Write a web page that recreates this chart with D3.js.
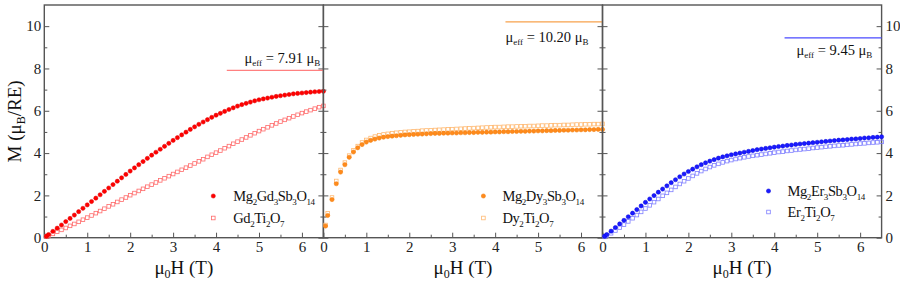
<!DOCTYPE html>
<html>
<head>
<meta charset="utf-8">
<script src="https://cdn.jsdelivr.net/npm/d3@7"></script>
<style>
  body { margin: 0; background: #fff; }
  svg { display: block; }
  svg text { font-family: "Liberation Serif", "Times New Roman", serif; }
</style>
</head>
<body>
<svg id="chart" width="900" height="281"></svg>
<script>
// field (T), shared by every series
var field = [0.05, 0.1, 0.2, 0.3, 0.4, 0.5, 0.6, 0.7, 0.8, 0.9, 1.0, 1.1, 1.2, 1.3, 1.4, 1.5, 1.6, 1.7, 1.8, 1.9,
  2.0, 2.1, 2.2, 2.3, 2.4, 2.5, 2.6, 2.7, 2.8, 2.9, 3.0, 3.1, 3.2, 3.3, 3.4, 3.5, 3.6, 3.7, 3.8, 3.9,
  4.0, 4.1, 4.2, 4.3, 4.4, 4.5, 4.6, 4.7, 4.8, 4.9, 5.0, 5.1, 5.2, 5.3, 5.4, 5.5, 5.6, 5.7, 5.8, 5.9,
  6.0, 6.1, 6.2, 6.3, 6.4, 6.5];

var mgGd = [0.07, 0.15, 0.30, 0.45, 0.60, 0.76, 0.91, 1.07, 1.23, 1.39, 1.55, 1.71, 1.87, 2.03, 2.19, 2.35, 2.51, 2.67, 2.83, 2.99,
  3.15, 3.30, 3.45, 3.60, 3.75, 3.90, 4.04, 4.18, 4.32, 4.46, 4.60, 4.73, 4.86, 4.99, 5.12, 5.24, 5.36, 5.47, 5.58, 5.69,
  5.79, 5.88, 5.97, 6.06, 6.14, 6.22, 6.29, 6.35, 6.41, 6.47, 6.52, 6.56, 6.60, 6.64, 6.68, 6.71, 6.74, 6.77, 6.80, 6.82,
  6.84, 6.86, 6.88, 6.90, 6.91, 6.92];
var gdTi = [0.05, 0.09, 0.18, 0.28, 0.37, 0.46, 0.56, 0.65, 0.75, 0.85, 0.95, 1.05, 1.16, 1.26, 1.37, 1.48, 1.58, 1.69, 1.80, 1.90,
  2.01, 2.11, 2.21, 2.31, 2.41, 2.51, 2.61, 2.71, 2.81, 2.91, 3.01, 3.11, 3.21, 3.31, 3.41, 3.51, 3.61, 3.71, 3.82, 3.92,
  4.02, 4.12, 4.23, 4.33, 4.44, 4.54, 4.64, 4.74, 4.84, 4.94, 5.04, 5.13, 5.22, 5.31, 5.40, 5.49, 5.57, 5.65, 5.73, 5.81,
  5.89, 5.96, 6.03, 6.10, 6.17, 6.23];

var mgDy = [0.55, 1.05, 1.80, 2.55, 3.10, 3.45, 3.80, 4.05, 4.25, 4.40, 4.52, 4.60, 4.66, 4.71, 4.75, 4.78, 4.80, 4.82, 4.84, 4.86,
  4.87, 4.88, 4.89, 4.90, 4.91, 4.92, 4.93, 4.93, 4.94, 4.94, 4.95, 4.95, 4.96, 4.96, 4.97, 4.97, 4.98, 4.98, 4.99, 4.99,
  5.00, 5.00, 5.01, 5.01, 5.02, 5.02, 5.03, 5.03, 5.04, 5.04, 5.05, 5.05, 5.06, 5.06, 5.07, 5.07, 5.08, 5.08, 5.09, 5.09,
  5.10, 5.10, 5.11, 5.11, 5.12, 5.12];
var dyTi = [0.60, 1.15, 1.90, 2.68, 3.20, 3.55, 3.88, 4.13, 4.33, 4.50, 4.62, 4.71, 4.78, 4.84, 4.88, 4.91, 4.94, 4.96, 4.98, 5.00,
  5.01, 5.03, 5.04, 5.06, 5.07, 5.08, 5.09, 5.10, 5.11, 5.12, 5.13, 5.14, 5.15, 5.16, 5.17, 5.18, 5.19, 5.20, 5.21, 5.22,
  5.23, 5.23, 5.24, 5.25, 5.25, 5.26, 5.27, 5.27, 5.28, 5.28, 5.29, 5.30, 5.30, 5.31, 5.32, 5.32, 5.33, 5.33, 5.34, 5.35,
  5.35, 5.36, 5.36, 5.37, 5.37, 5.38];

var mgEr = [0.07, 0.15, 0.31, 0.48, 0.65, 0.82, 0.99, 1.16, 1.33, 1.50, 1.67, 1.83, 1.99, 2.15, 2.30, 2.45, 2.60, 2.74, 2.88, 3.01,
  3.13, 3.24, 3.35, 3.45, 3.54, 3.62, 3.69, 3.76, 3.82, 3.87, 3.92, 3.96, 4.00, 4.04, 4.08, 4.12, 4.16, 4.19, 4.22, 4.25,
  4.28, 4.31, 4.33, 4.36, 4.38, 4.41, 4.43, 4.45, 4.47, 4.49, 4.51, 4.53, 4.55, 4.57, 4.59, 4.61, 4.62, 4.64, 4.66, 4.67,
  4.69, 4.71, 4.72, 4.74, 4.75, 4.77];
var erTi = [0.04, 0.09, 0.21, 0.34, 0.48, 0.62, 0.77, 0.92, 1.07, 1.22, 1.38, 1.53, 1.68, 1.83, 1.98, 2.12, 2.26, 2.40, 2.54, 2.67,
  2.80, 2.92, 3.04, 3.15, 3.25, 3.34, 3.42, 3.49, 3.56, 3.62, 3.67, 3.72, 3.76, 3.80, 3.84, 3.87, 3.90, 3.93, 3.96, 3.99,
  4.02, 4.05, 4.07, 4.10, 4.12, 4.15, 4.17, 4.19, 4.21, 4.24, 4.26, 4.28, 4.30, 4.32, 4.34, 4.36, 4.37, 4.39, 4.41, 4.43,
  4.45, 4.46, 4.48, 4.50, 4.51, 4.53];

// legend names as [text, subscript] pieces
var namesMg = [
  [["Mg", "2"], ["Gd", "3"], ["Sb", "3"], ["O", "14"]],
  [["Mg", "2"], ["Dy", "3"], ["Sb", "3"], ["O", "14"]],
  [["Mg", "2"], ["Er", "3"], ["Sb", "3"], ["O", "14"]]
];
var namesTi = [
  [["Gd", "2"], ["Ti", "2"], ["O", "7"]],
  [["Dy", "2"], ["Ti", "2"], ["O", "7"]],
  [["Er", "2"], ["Ti", "2"], ["O", "7"]]
];
var muEff = [7.91, 10.20, 9.45];
var muEffStart = [4.25, 4.24, 4.24];
var xTicks = [0, 1, 2, 3, 4, 5, 6];
var yTicks = [0, 2, 4, 6, 8, 10];

var panels = [
  { mg: mgGd, ti: gdTi, fill: "#ff0000", edge: "#e00000", open: "#ff6a6a", line: "#ff8080",
    leg: { mx: 169, y1: 197, y2: 219, tx: 189 }, note: { x: 276, y: 63, anchor: "end" } },
  { mg: mgDy, ti: dyTi, fill: "#ff8a1c", edge: "#f07800", open: "#ffb870", line: "#f7a24c",
    leg: { mx: 160, y1: 197, y2: 219, tx: 179 }, note: { x: 182, y: 42, anchor: "start" } },
  { mg: mgEr, ti: erTi, fill: "#1a1aff", edge: "#0000dd", open: "#7f7fff", line: "#4a4aff",
    leg: { mx: 166, y1: 192, y2: 213, tx: 185 }, note: { x: 194, y: 55, anchor: "start" } }
];

var svg = d3.select("#chart");
var plotLeft = 44.3, pw = 279.1, plotTop = 5, plotBottom = 237.7;
var y = d3.scaleLinear().domain([0, 11]).range([plotBottom, plotTop]);
var axisColor = "#555";

// text with subscripts: parts are [normal, subscript] pairs
function formula(sel, parts, size, subSize) {
  var shift = size * 0.28;
  parts.forEach(function(p, k) {
    sel.append("tspan").attr("dy", k === 0 ? 0 : -shift).text(p[0]);
    sel.append("tspan").style("font-size", subSize + "px").attr("dy", shift).text(p[1]);
  });
}

function labelStyle(ax) {
  ax.attr("font-family", null).attr("font-size", null);
  ax.select(".domain").remove();
  ax.selectAll("text").attr("fill", "#222").style("font-size", "15px");
}

panels.forEach(function(p, i) {
  var x0 = plotLeft + i * pw;
  var x = d3.scaleLinear().domain([0, 6.5]).range([x0, x0 + pw]);
  var g = svg.append("g");

  var tickStyle = function(ax) {
    ax.select(".domain").remove();
    ax.selectAll("line").attr("stroke", axisColor).attr("stroke-width", 1);
  };
  // bottom ticks, pointing inward
  g.append("g").attr("transform", "translate(0," + plotBottom + ")")
    .call(d3.axisBottom(x).tickValues([0.5, 1.5, 2.5, 3.5, 4.5, 5.5]).tickSize(-3).tickFormat(""))
    .call(tickStyle);
  g.append("g").attr("transform", "translate(0," + plotBottom + ")")
    .call(d3.axisBottom(x).tickValues(xTicks).tickSize(-5).tickPadding(4).tickFormat(d3.format("d")))
    .call(tickStyle).call(labelStyle);

  // left and right ticks, pointing inward
  [[x0, 1], [x0 + pw, -1]].forEach(function(s) {
    g.append("g").attr("transform", "translate(" + s[0] + ",0)")
      .call(d3.axisLeft(y).tickValues([1, 3, 5, 7, 9]).tickSize(-3 * s[1]).tickFormat(""))
      .call(tickStyle);
    g.append("g").attr("transform", "translate(" + s[0] + ",0)")
      .call(d3.axisLeft(y).tickValues(yTicks).tickSize(-5 * s[1]).tickFormat(""))
      .call(tickStyle);
  });

  // frame
  g.append("rect").attr("x", x0).attr("y", plotTop).attr("width", pw).attr("height", plotBottom - plotTop)
    .attr("fill", "none").attr("stroke", axisColor).attr("stroke-width", 1.4);

  // mu_eff reference line and note
  g.append("line").attr("x1", x(muEffStart[i])).attr("x2", x(6.5))
    .attr("y1", y(muEff[i])).attr("y2", y(muEff[i]))
    .attr("stroke", p.line).attr("stroke-width", 1.2);
  var note = g.append("text").attr("x", x0 + p.note.x).attr("y", p.note.y)
    .style("font-size", "14.5px").attr("fill", "#111").attr("text-anchor", p.note.anchor);
  note.append("tspan").text("\u03bc");
  note.append("tspan").style("font-size", "9px").attr("dy", 3).text("eff");
  note.append("tspan").attr("dy", -3).text(" = " + muEff[i].toFixed(2) + " \u03bc");
  note.append("tspan").style("font-size", "9px").attr("dy", 3).text("B");

  // data
  var pts = field.map(function(h, k) { return { h: h, a: p.mg[k], b: p.ti[k] }; });
  g.selectAll(".sq").data(pts).enter().append("rect")
    .attr("x", function(d) { return x(d.h) - 1.8; }).attr("y", function(d) { return y(d.b) - 1.8; })
    .attr("width", 3.6).attr("height", 3.6)
    .attr("fill", "none").attr("stroke", p.open).attr("stroke-width", 0.8);
  g.selectAll(".dot").data(pts).enter().append("circle")
    .attr("cx", function(d) { return x(d.h); }).attr("cy", function(d) { return y(d.a); })
    .attr("r", 2.1).attr("fill", p.fill).attr("stroke", p.edge).attr("stroke-width", 0.5);

  // legend
  g.append("circle").attr("cx", x0 + p.leg.mx).attr("cy", p.leg.y1 - 1).attr("r", 2.1)
    .attr("fill", p.fill).attr("stroke", p.edge).attr("stroke-width", 0.5);
  g.append("rect").attr("x", x0 + p.leg.mx - 1.8).attr("y", p.leg.y2 - 2.8).attr("width", 3.6).attr("height", 3.6)
    .attr("fill", "none").attr("stroke", p.open).attr("stroke-width", 0.8);
  var t1 = g.append("text").attr("x", x0 + p.leg.tx).attr("y", p.leg.y1 + 4).style("font-size", "14.5px")
    .attr("letter-spacing", -0.4).attr("fill", "#111");
  formula(t1, namesMg[i], 14.5, 9);
  var t2 = g.append("text").attr("x", x0 + p.leg.tx).attr("y", p.leg.y2 + 4).style("font-size", "14.5px")
    .attr("letter-spacing", -0.4).attr("fill", "#111");
  formula(t2, namesTi[i], 14.5, 9);

  // x title
  var xt = g.append("text").attr("x", x0 + pw / 2).attr("y", 274).attr("text-anchor", "middle")
    .style("font-size", "19px").attr("fill", "#111");
  xt.append("tspan").text("\u03bc");
  xt.append("tspan").style("font-size", "12px").attr("dy", 4).text("0");
  xt.append("tspan").attr("dy", -4).text("H (T)");
});

// y tick labels: left side and far right side
svg.append("g").attr("transform", "translate(" + plotLeft + ",0)")
  .call(d3.axisLeft(y).tickValues(yTicks).tickSize(0).tickPadding(3))
  .call(labelStyle);
svg.append("g").attr("transform", "translate(" + (plotLeft + 3 * pw) + ",0)")
  .call(d3.axisRight(y).tickValues(yTicks).tickSize(0).tickPadding(4))
  .call(labelStyle);

// y title
var yt = svg.append("text").attr("transform", "translate(21," + (plotTop + plotBottom) / 2 + ") rotate(-90)")
  .attr("text-anchor", "middle").style("font-size", "19px").attr("fill", "#111");
yt.append("tspan").text("M (\u03bc");
yt.append("tspan").style("font-size", "12px").attr("dy", 4).text("B");
yt.append("tspan").attr("dy", -4).text("/RE)");
</script>
</body>
</html>
